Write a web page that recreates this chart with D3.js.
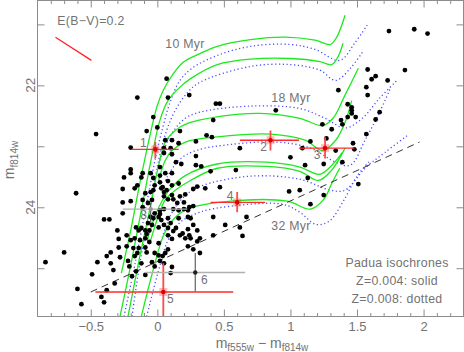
<!DOCTYPE html>
<html><head><meta charset="utf-8">
<script src="https://cdn.jsdelivr.net/npm/d3@7"></script>
<style>
body{margin:0;background:#fff}
svg{display:block}
text{font-family:"Liberation Sans",Arial,Helvetica,sans-serif}
</style>
</head><body>
<svg id="c" width="464" height="352"></svg>
<script>
// ---------- data ----------
const xTicksMajor = [-0.5, 0, 0.5, 1, 1.5, 2];
const xTickLabels = ["\u22120.5", "0", "0.5", "1", "1.5", "2"];
const yTicksMajor = [21, 22, 23, 24, 25];
const yTickLabels = ["", "22", "", "24", ""];

const starColor = [0.07,-0.15,0.24,0.08,0.44,0.47,0.89,0.42,-0.03,0,-0.08,0.17,-0.46,
1.74,1.93,2.03,1.58,1.86,1.64,1.61,1.73,1.57,1.36,1.58,1.43,1.46,1.46,1.46,1.43,1.49,1.67,1.64,1.38,1.24,1.31,1.39,1.57,
1.27,1.15,1.09,0.62,1.00,1.34,1.48,1.47,1.11,1.25,1.39,0.59,1.13,1.51,1.07,0.99,1.25,1.15,0.67,0.64,0.37,0.41,0.29,
0.06,0.11,0.16,-0.20,0.05,0.10,0.05,0.11,0.29,0.14,0.18,0.29,0.33,-0.20,-0.20,-0.05,0.06,0.11,0.40,0.02,-0.25,-0.11,-0.12,0.02,-0.03,0.02,-0.02,0.04,0.11,0.05,0.08,0.16,-0.26,-0.17,-0.15,-0.09,-0.05,-0.03,-0.20,-0.11,-0.07,0.03,0.07,0.11,0.05,0.08,0.15,-0.11,-0.26,-0.61,0.47,0.36,0.30,0.27,0.21,0.17,0.12,0.20,0.23,0.16,0.24,0.27,0.20,0.12,0.02,-0.04,
-0.26,-0.40,-0.36,-0.03,0.01,0.03,0.08,0.05,-0.04,0.01,0.14,0.25,0.27,0.42,0.62,0.51,-0.02,-0.30,-0.14,-0.23,0.10,0.16,0.23,0.24,0.30,0.17,-0.16,-0.09,-0.06,-0.29,-0.20,-0.17,-0.13,-0.09,0.02,0.05,-0.05,-0.08,-0.07,0.08,0.12,0.19,0.21,0.25,0.23,0.30,0.32,0.42,0.11,-0.12,
-0.29,-0.23,-0.14,-0.09,0.01,-0.18,-0.15,-0.08,-0.06,-0.02,0.01,0.04,0.06,0.08,0.23,0.27,0.32,0.08,-0.70,-0.84,-0.60,-0.57,-0.49,-0.45,-0.42,-0.40,-0.38,-0.38,-0.35,-0.33,-0.28,-0.22,-0.16,-0.19,-0.12,-0.02,0.02,0.10,0.11,-0.04,0.05,-0.21,-0.17,-0.09,-0.35,-0.32];
const starMag = [21.89,22.20,22.16,22.20,22.30,22.30,22.41,22.57,22.52,22.69,22.75,22.75,22.80,
21.11,21.08,21.15,21.74,21.75,21.85,21.90,21.92,22.03,22.08,22.16,22.31,22.36,22.41,22.46,22.52,22.52,22.44,22.56,22.57,22.64,22.72,22.64,22.80,
22.87,22.92,23.03,23.03,23.18,23.07,23.05,22.95,23.31,23.29,23.26,23.39,23.52,23.62,23.72,23.74,23.80,23.95,24.16,24.47,22.82,22.85,22.92,
22.90,22.90,22.95,23.02,23.03,23.03,23.11,23.13,23.16,23.26,23.29,23.31,23.33,23.38,23.44,23.44,23.44,23.44,23.41,23.34,23.51,23.44,23.51,23.48,23.52,23.59,23.64,23.67,23.64,23.75,23.57,23.61,23.70,23.69,23.64,23.77,23.75,23.72,23.90,24.00,23.93,23.69,23.72,23.80,23.82,23.87,23.93,23.88,23.92,23.77,23.67,23.69,23.66,23.70,23.79,23.82,23.87,23.92,24.05,24.05,24.00,23.98,24.03,24.03,24.05,23.88,
24.10,24.20,24.20,24.18,24.16,24.21,24.18,24.29,24.29,24.33,24.34,24.18,24.29,24.16,24.33,24.29,24.10,24.38,24.38,24.46,24.26,24.18,24.16,24.46,24.38,24.46,24.33,24.38,24.38,24.52,24.54,24.51,24.54,24.51,24.11,24.03,24.16,24.44,24.26,24.34,24.39,24.43,24.51,24.51,24.36,24.56,24.51,24.46,24.52,24.34,
24.66,24.64,24.67,24.66,24.59,24.67,24.75,24.74,24.57,24.75,24.79,24.80,24.75,24.69,24.64,24.69,24.75,24.46,24.74,24.90,25.34,25.59,25.10,24.90,25.47,25.56,25.36,24.80,24.92,25.03,24.82,24.88,25.05,25.13,24.92,24.97,24.88,25.08,24.98,24.90,24.92,24.97,24.80,25.11,24.74,25.25];

// Padua isochrones, Z=0.004 (solid)
const iso10a = [[-0.27,25.08],[-0.20,24.38],[-0.13,23.59],[-0.05,22.77],[0,22.33],[0.045,22.08],[0.11,21.84],[0.195,21.62],[0.32,21.48],[0.45,21.36],[0.70,21.25],[0.96,21.21],[1.185,21.26],[1.30,21.33],[1.35,21.20],[1.41,20.85]];
const iso10b = [[-0.28,25.79],[-0.195,24.90],[-0.105,23.88],[-0.04,23.15],[0.02,22.57],[0.08,22.25],[0.16,22.05],[0.25,21.89],[0.45,21.66],[0.70,21.57],[1.0,21.56],[1.22,21.61],[1.31,21.66],[1.36,21.52],[1.395,21.31]];
const iso18a = [[-0.22,25.79],[-0.13,24.79],[-0.05,23.97],[0.01,23.31],[0.06,22.93],[0.135,22.74],[0.21,22.64],[0.47,22.51],[0.77,22.46],[1.07,22.54],[1.24,22.66],[1.32,22.54],[1.41,22.16],[1.51,21.72]];
const iso18b = [[0.01,23.56],[0.06,23.23],[0.11,23.07],[0.21,22.93],[0.47,22.84],[0.85,22.80],[1.11,22.90],[1.24,23.07],[1.34,22.90],[1.41,22.61],[1.46,22.25]];
const iso25a = [[-0.075,24.54],[-0.015,24.13],[0.04,23.88],[0.10,23.69],[0.21,23.48],[0.45,23.29],[0.825,23.26],[1.07,23.34],[1.22,23.46],[1.32,23.29],[1.39,23.10]];
const iso25b = [[-0.05,24.54],[0.01,24.13],[0.06,23.88],[0.135,23.72],[0.25,23.56],[0.45,23.36],[0.825,23.33],[1.07,23.41],[1.21,23.56],[1.31,23.39],[1.41,23.03]];
const iso32 = [[-0.12,25.79],[-0.03,25.02],[0.045,24.47],[0.12,24.20],[0.225,24.03],[0.55,23.90],[0.975,23.90],[1.15,24.03],[1.25,23.87],[1.31,23.61],[1.37,23.36]];
// Z=0.008 (dotted)
const isoZ8_10a = [[-0.25,25.79],[-0.165,24.90],[-0.075,23.88],[-0.01,23.15],[0.045,22.66],[0.10,22.25],[0.17,21.92],[0.26,21.72],[0.45,21.51],[0.70,21.36],[1.0,21.33],[1.185,21.41],[1.37,21.59],[1.485,21.30],[1.58,21.00]];
const isoZ8_10b = [[-0.19,25.79],[-0.13,24.90],[-0.05,23.97],[0.01,23.23],[0.07,22.74],[0.135,22.41],[0.23,22.11],[0.32,21.95],[0.70,21.69],[1.0,21.66],[1.22,21.75],[1.34,21.92],[1.45,21.72],[1.54,21.46]];
const isoZ8_18a = [[0.02,23.23],[0.10,22.82],[0.21,22.54],[0.32,22.44],[0.70,22.34],[1.07,22.38],[1.26,22.54],[1.41,22.70],[1.54,22.54],[1.67,22.21],[1.80,21.92]];
const isoZ8_18b = [[0.06,23.56],[0.16,23.23],[0.29,23.07],[0.55,22.97],[0.89,22.93],[1.15,23.03],[1.34,23.26],[1.45,23.31],[1.56,22.90],[1.67,22.44],[1.75,22.05]];
const isoZ8_25 = [[0.02,24.62],[0.10,24.13],[0.19,23.85],[0.32,23.66],[0.70,23.49],[1.07,23.54],[1.30,23.72],[1.41,23.72],[1.56,23.36],[1.71,23.10],[1.88,22.82]];
const isoZ8_32 = [[-0.08,25.79],[0.01,25.03],[0.08,24.54],[0.17,24.25],[0.32,24.08],[0.56,23.98],[0.94,23.95],[1.07,24.08],[1.19,24.28],[1.29,24.23],[1.40,23.89],[1.50,23.49],[1.60,23.23]];

const solidIsochrones = [iso10a, iso10b, iso18a, iso18b, iso25a, iso25b, iso32];
const dottedIsochrones = [isoZ8_10a, isoZ8_10b, isoZ8_18a, isoZ8_18b, isoZ8_25, isoZ8_32];

// detection-limit line and reddening vector
const limitLine = [[-0.50,25.39],[1.97,22.93]];
const reddening = [[-0.765,21.21],[-0.495,21.59]];

// error-bar examples
const errLabel = ["1","2","3","4","5","6","8"];
const errX  = [-0.015, 0.85, 1.26, 0.60, 0.045, 0.285, -0.05];
const errY  = [23.05, 22.90, 23.03, 23.92, 25.39, 25.07, 24.03];
const errXlo = [-0.19, 0.62, 1.065, 0.40, -0.465, -0.09, -0.26];
const errXhi = [0.16, 1.065, 1.48, 0.81, 0.57, 0.66, 0.225];
const errYlo = [22.93, 22.74, 22.85, 23.75, 24.92, 24.75, 23.93];
const errYhi = [23.20, 23.07, 23.20, 24.08, 25.85, 25.38, 24.25];

// ---------- drawing ----------
const svg = d3.select("#c");
const L = 37.5, R = 463.5, T = 0.5, B = 316.5;
const x = d3.scaleLinear().domain([-0.9, 2.3]).range([L, R]);
const y = d3.scaleLinear().domain([20.6, 25.8]).range([0, 317]);
const axisCol = "#8c8c8c", textCol = "#737373";

svg.append("defs").append("clipPath").attr("id","clip")
  .append("rect").attr("x",L).attr("y",T).attr("width",R-L).attr("height",B-T);
const plot = svg.append("g").attr("clip-path","url(#clip)");

const line = d3.line().x(d=>x(d[0])).y(d=>y(d[1])).curve(d3.curveCatmullRom.alpha(0.5));

plot.selectAll("path.dot").data(dottedIsochrones).join("path")
  .attr("class","dot").attr("d",line).attr("fill","none")
  .attr("stroke","#4a4aff").attr("stroke-width",1.3).attr("stroke-dasharray","1.2,2.6");
plot.selectAll("path.sol").data(solidIsochrones).join("path")
  .attr("class","sol").attr("d",line).attr("fill","none")
  .attr("stroke","#1ee81e").attr("stroke-width",1.3);

plot.append("path").attr("d", d3.line().x(d=>x(d[0])).y(d=>y(d[1]))(limitLine))
  .attr("stroke","#333").attr("stroke-width",1).attr("stroke-dasharray","7,5").attr("fill","none");

plot.append("path").attr("d", d3.line().x(d=>x(d[0])).y(d=>y(d[1]))(reddening))
  .attr("stroke","#f22").attr("stroke-width",1.3).attr("fill","none");

plot.selectAll("circle.star").data(starColor).join("circle")
  .attr("class","star").attr("cx",(d)=>x(d)).attr("cy",(d,i)=>y(starMag[i]))
  .attr("r",2.4).attr("fill","#000");

// error bars
const eb = plot.append("g");
errLabel.forEach((lab,i)=>{
  const red = i < 5;
  const hcol = red ? "#ff2a2a" : "#b0b0b0";
  const vcol = red ? "#ff4a4a" : "#555";
  eb.append("line").attr("x1",x(errXlo[i])).attr("x2",x(errXhi[i]))
    .attr("y1",y(errY[i])).attr("y2",y(errY[i])).attr("stroke",hcol).attr("stroke-width",1.4);
  eb.append("line").attr("x1",x(errX[i])).attr("x2",x(errX[i]))
    .attr("y1",y(errYlo[i])).attr("y2",y(errYhi[i])).attr("stroke",vcol).attr("stroke-width",red?1.8:1.1);
  if (red) {
    eb.append("rect").attr("x",x(errX[i])-4).attr("y",y(errY[i])-4).attr("width",8).attr("height",8)
      .attr("fill","rgba(255,60,60,0.35)");
    eb.append("circle").attr("cx",x(errX[i])).attr("cy",y(errY[i])).attr("r",2.3).attr("fill","#d00");
  } else {
    eb.append("circle").attr("cx",x(errX[i])).attr("cy",y(errY[i])).attr("r",2.2).attr("fill", i===5?"#222":"#999");
  }
});
const labOff = [[-12,-6],[-7,7],[-8,7],[-7,-6],[7,7],[9,8],[-7,6]];
errLabel.forEach((lab,i)=>{
  svg.append("text").attr("x",x(errX[i])+labOff[i][0]).attr("y",y(errY[i])+labOff[i][1])
    .attr("text-anchor","middle").attr("dominant-baseline","central")
    .attr("font-size",12).attr("fill",textCol).text(lab);
});

// axes
function styleAxis(g){ g.select(".domain").remove(); g.selectAll("line").attr("stroke",axisCol); g.selectAll("text").attr("fill",textCol).attr("font-size",13).attr("font-family","Liberation Sans, Arial, sans-serif"); }
const xMinor = d3.range(-8, 23).map(v=>v/10).filter(v=>Math.abs(v*2-Math.round(v*2))>1e-6);
svg.append("g").attr("transform",`translate(0,${B})`)
  .call(d3.axisBottom(x).tickValues(xTicksMajor).tickSize(-7).tickPadding(5.5).tickFormat((d,i)=>xTickLabels[i])).call(styleAxis);
svg.append("g").attr("transform",`translate(0,${B})`)
  .call(d3.axisBottom(x).tickValues(xMinor).tickSize(-3.5).tickFormat("")).call(styleAxis);
svg.append("g").attr("transform",`translate(0,${T})`)
  .call(d3.axisTop(x).tickValues(xTicksMajor).tickSize(-7).tickFormat("")).call(styleAxis);
svg.append("g").attr("transform",`translate(0,${T})`)
  .call(d3.axisTop(x).tickValues(xMinor).tickSize(-3.5).tickFormat("")).call(styleAxis);
svg.append("g").attr("transform",`translate(${L},0)`)
  .call(d3.axisLeft(y).tickValues(yTicksMajor).tickSize(-7).tickFormat("")).call(styleAxis);
svg.append("g").attr("transform",`translate(${R},0)`)
  .call(d3.axisRight(y).tickValues(yTicksMajor).tickSize(-7).tickFormat("")).call(styleAxis);
yTicksMajor.forEach((v,i)=>{
  if(!yTickLabels[i]) return;
  svg.append("text").attr("transform",`translate(30,${y(v)}) rotate(-90)`)
    .attr("text-anchor","middle").attr("dominant-baseline","central")
    .attr("font-size",13.5).attr("fill",textCol).text(yTickLabels[i]);
});
svg.append("rect").attr("x",L).attr("y",T).attr("width",R-L).attr("height",B-T)
  .attr("fill","none").attr("stroke",axisCol).attr("stroke-width",1);

// axis titles
const xt = svg.append("text").attr("x",262).attr("y",348).attr("text-anchor","middle").attr("fill",textCol).attr("font-size",14);
xt.append("tspan").text("m");
xt.append("tspan").attr("font-size",10).attr("dy",2.5).text("f555w");
xt.append("tspan").attr("dy",-2.5).text(" \u2212 m");
xt.append("tspan").attr("font-size",10).attr("dy",2.5).text("f814w");
const yt = svg.append("text").attr("transform","translate(14,160) rotate(-90)").attr("text-anchor","middle").attr("fill",textCol).attr("font-size",14);
yt.append("tspan").text("m");
yt.append("tspan").attr("font-size",10).attr("dy",4).text("f814w");

// annotations
const ann = [["E(B\u2212V)=0.2",91,21],["10 Myr",185,44],["18 Myr",291,98],["32 Myr",291,226],
             ["Padua isochrones",397,263],["Z=0.004: solid",397,281],["Z=0.008: dotted",397,299]];
ann.forEach(a=>{
  svg.append("text").attr("x",a[1]).attr("y",a[2]).attr("text-anchor","middle").attr("dominant-baseline","central")
    .attr("font-size",12.3).attr("fill",textCol).attr("letter-spacing",0.3).text(a[0]);
});
</script>
</body></html>
